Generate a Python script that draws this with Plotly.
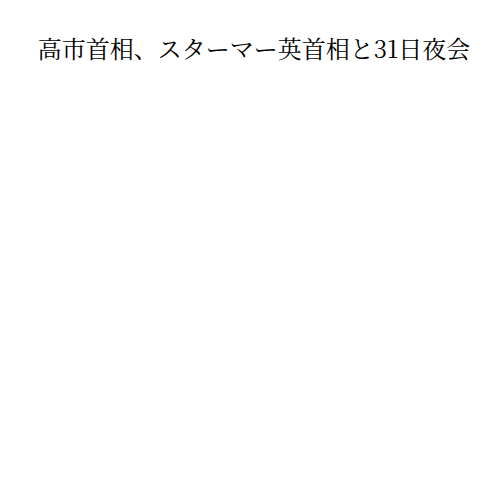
import plotly.graph_objects as go

title_text = "高市首相、スターマー英首相と31日夜会"

fig = go.Figure()
fig.update_layout(
    width=500, height=500,
    paper_bgcolor="white", plot_bgcolor="white",
    title=dict(text=title_text, x=0.5, xanchor="center", y=0.916, yanchor="middle",
               xref="paper",
               font=dict(family="Noto Serif CJK JP, serif", size=24, color="black")),
    xaxis=dict(visible=False), yaxis=dict(visible=False),
    margin=dict(l=12, r=20, t=80, b=20),
)
fig.write_html("out.html")
